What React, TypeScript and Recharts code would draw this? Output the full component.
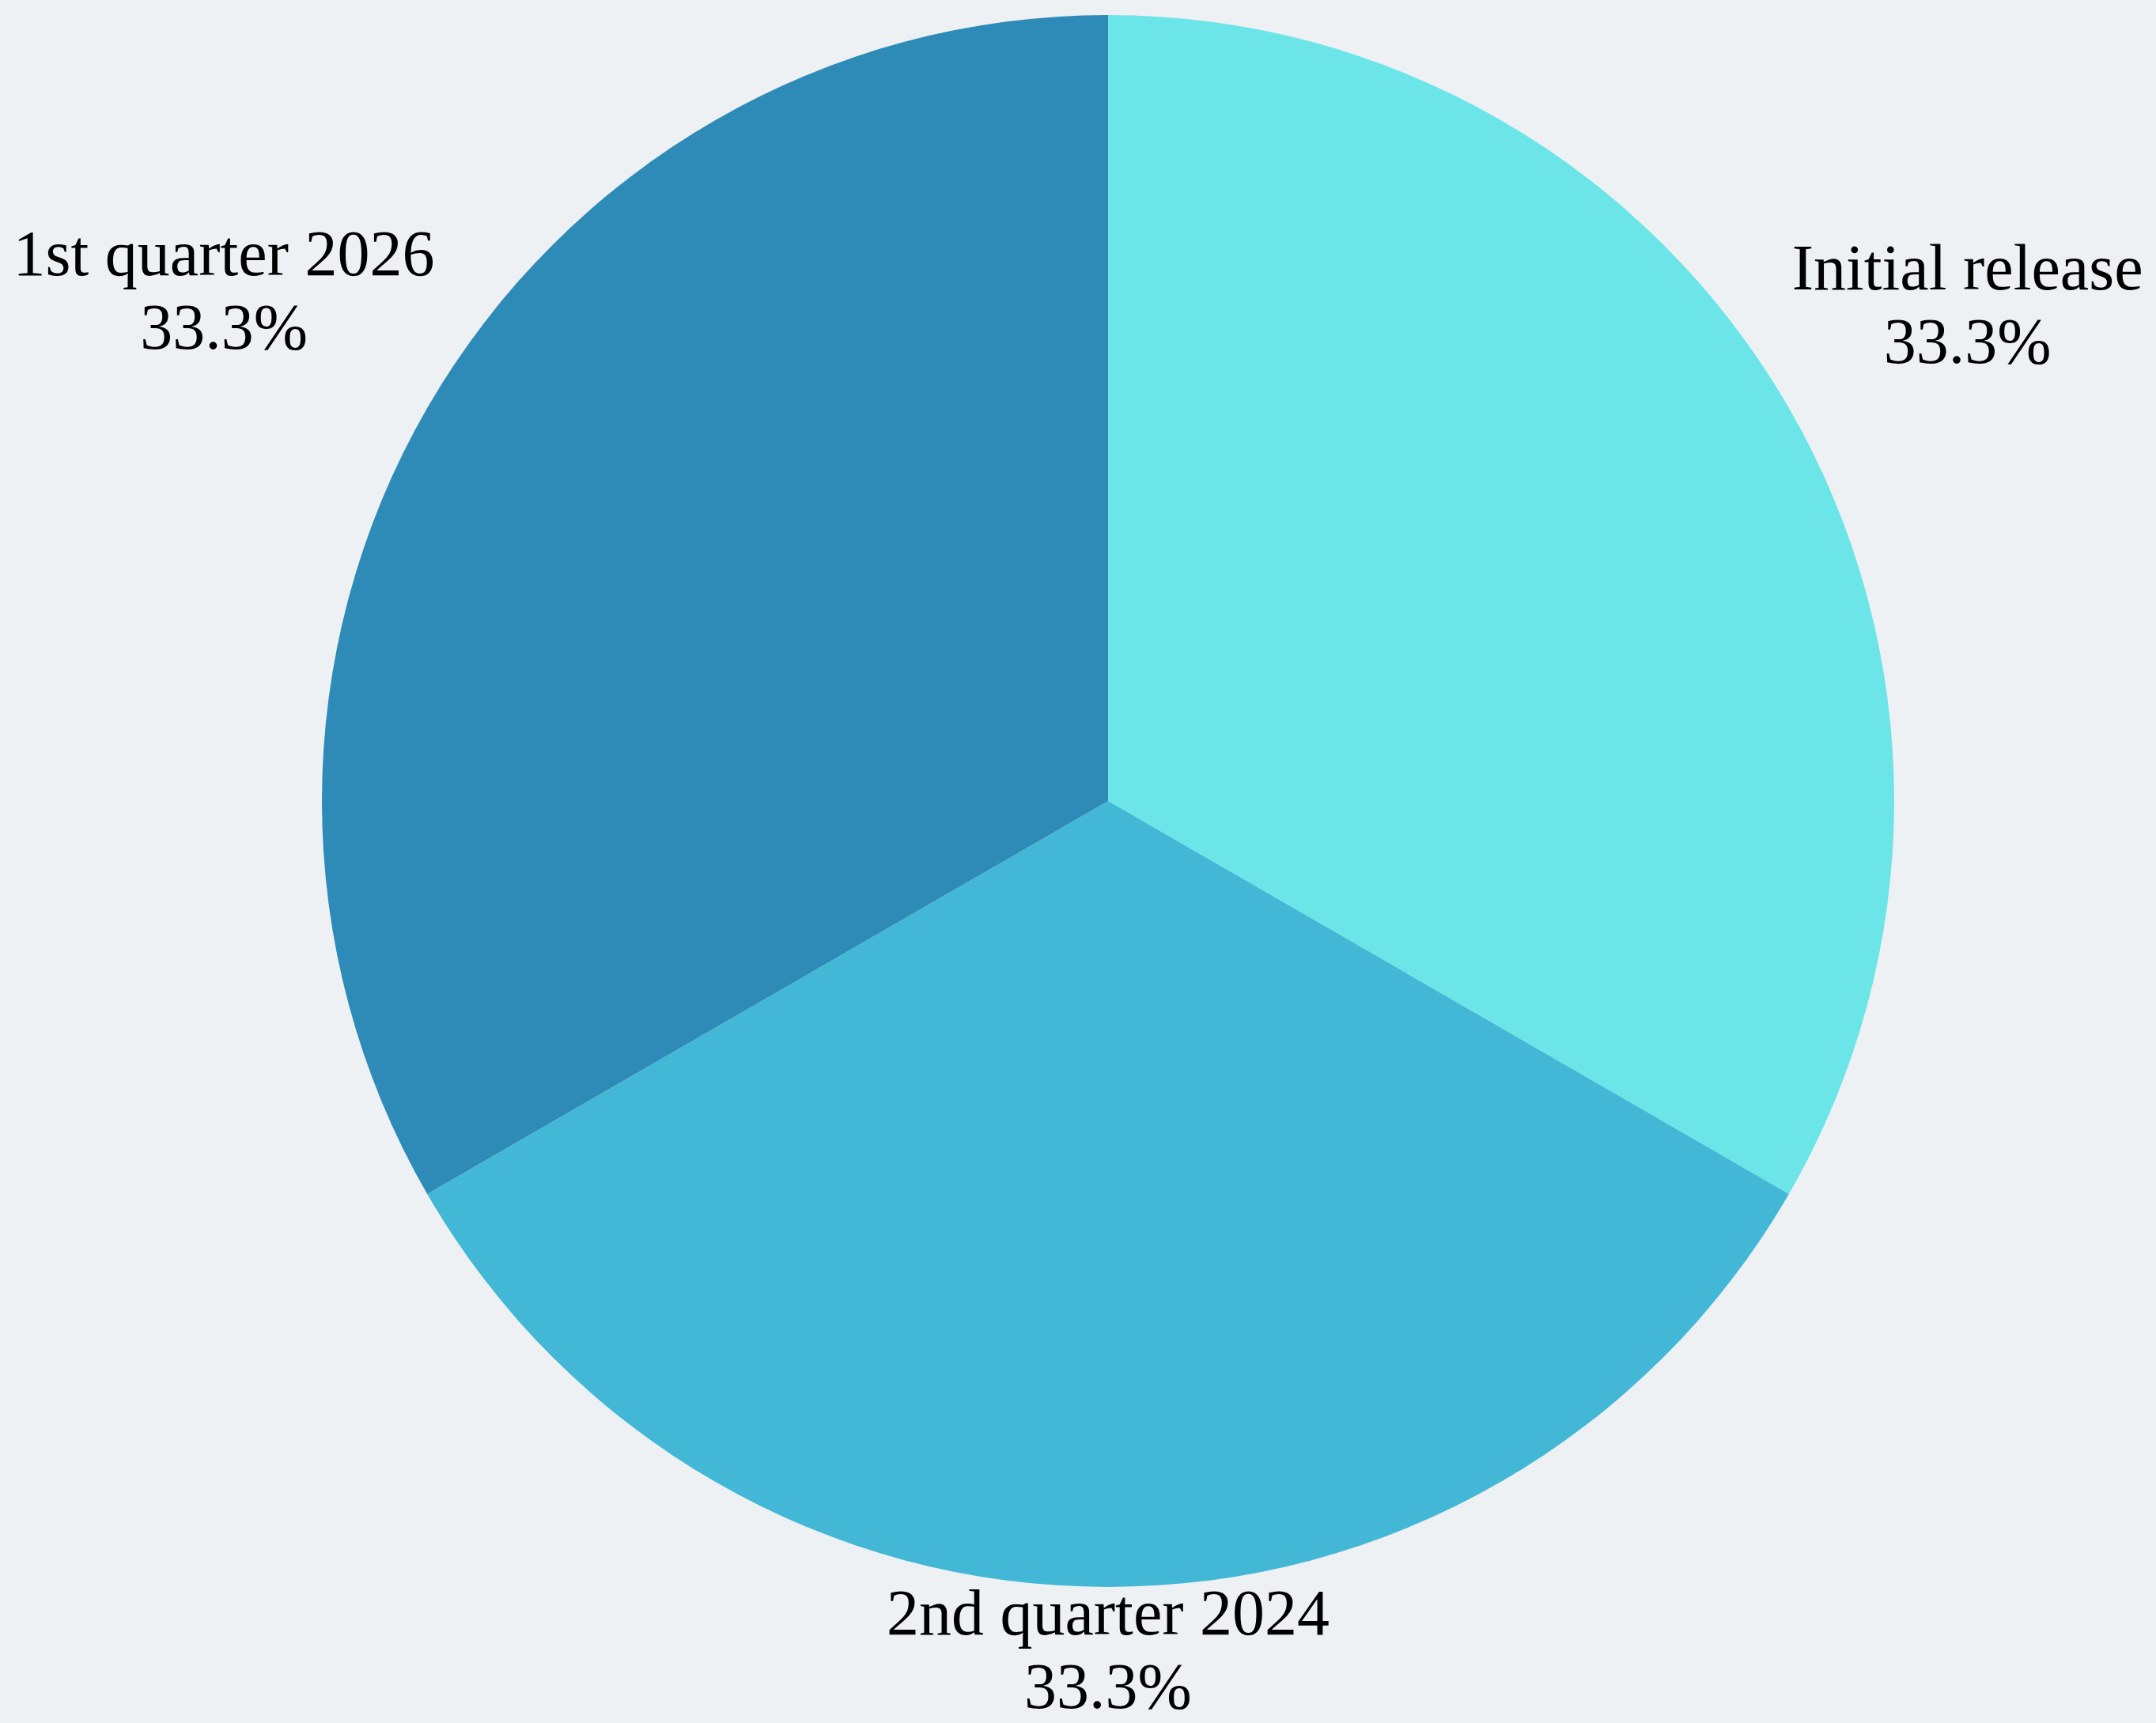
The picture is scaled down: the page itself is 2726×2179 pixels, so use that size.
import React from 'react';
import { PieChart, Pie, Cell } from 'recharts';

const names = ['Initial release', '2nd quarter 2024', '1st quarter 2026'];
const values = [1, 1, 1];
const colors = ['#6be5e8', '#43b7d6', '#2e8bb8'];

const data = names.map((name, i) => ({ name, value: values[i] }));

const RAD = Math.PI / 180;
const FONT = '"Liberation Serif", "DejaVu Serif", serif';
const FONT_SIZE = 82;

let ctx: CanvasRenderingContext2D | null = null;
const textWidth = (t: string) => {
  if (!ctx) ctx = document.createElement('canvas').getContext('2d');
  if (!ctx) return t.length * FONT_SIZE * 0.42;
  ctx.font = `${FONT_SIZE}px ${FONT}`;
  return ctx.measureText(t).width;
};

const renderLabel = (props: any) => {
  const { cx, cy, midAngle, outerRadius, percent, name } = props;
  const c = Math.cos(-midAngle * RAD);
  const s = Math.sin(-midAngle * RAD);
  // keep the text box clear of the pie: side labels go out by about half their width
  const r = outerRadius + 80 + 0.94 * Math.abs(c) * (textWidth(name) / 2);
  const x = cx + r * c;
  const y = cy + r * s;
  return (
    <text
      x={x}
      y={y}
      textAnchor="middle"
      fill="#000"
      style={{ fontFamily: FONT, fontSize: FONT_SIZE }}
    >
      <tspan x={x} y={y - 20}>{name}</tspan>
      <tspan x={x} y={y + 73}>{`${(percent * 100).toFixed(1)}%`}</tspan>
    </text>
  );
};

const App: React.FC = () => (
  <div
    style={{
      position: 'absolute',
      left: 0,
      top: 0,
      width: 2726,
      height: 2179,
      background: '#edf1f4',
    }}
  >
    <PieChart width={2726} height={2179} margin={{ top: 0, right: 0, bottom: 0, left: 0 }}>
      <Pie
        data={data}
        dataKey="value"
        nameKey="name"
        cx={1401}
        cy={1013}
        outerRadius={994}
        startAngle={90}
        endAngle={-270}
        stroke="none"
        label={renderLabel}
        labelLine={false}
        isAnimationActive={false}
      >
        {data.map((d, i) => (
          <Cell key={d.name} fill={colors[i]} />
        ))}
      </Pie>
    </PieChart>
  </div>
);

export default App;
